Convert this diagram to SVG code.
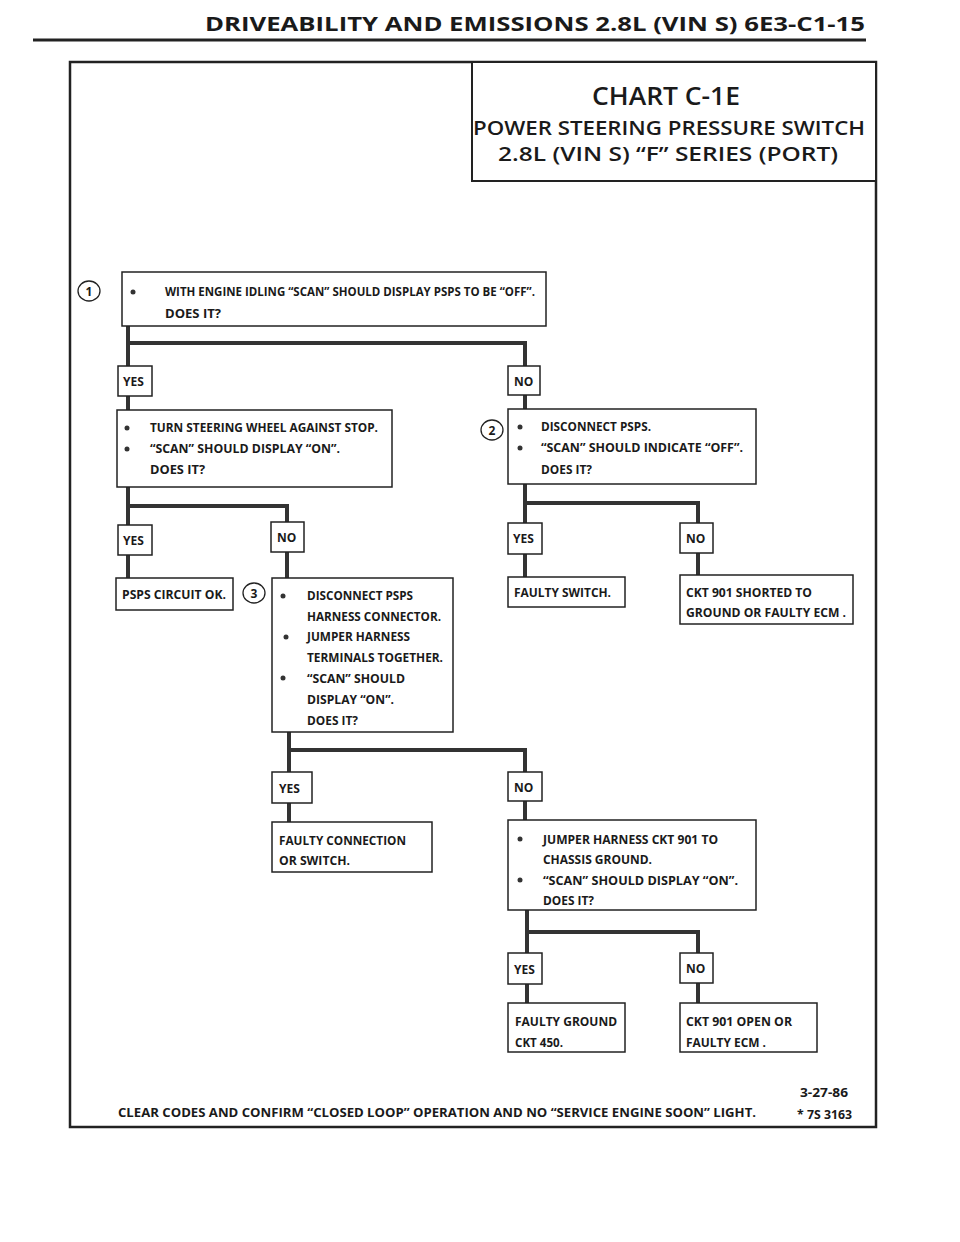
<svg xmlns="http://www.w3.org/2000/svg" width="960" height="1242" viewBox="0 0 960 1242">
<style>
.t{font-family:"Open Sans","DejaVu Sans",sans-serif;font-weight:700;font-size:12px;fill:#1a1a1a}
.ti{font-family:"Open Sans","DejaVu Sans",sans-serif;font-weight:600;fill:#1a1a1a}
.box{fill:#fff;stroke:#222;stroke-width:1.5}
.lab{fill:#fff;stroke:#222;stroke-width:1.5}
.con{fill:none;stroke:#333;stroke-width:4;stroke-linejoin:miter}
.b{fill:#333}
.num{fill:#fff;stroke:#222;stroke-width:1.3}
</style>
<rect width="960" height="1242" fill="#fff"/>
<g id="header">
<text x="205" y="31" style="font-family:'Open Sans','DejaVu Sans',sans-serif;font-weight:700;font-size:19px;fill:#1a1a1a" textLength="660" lengthAdjust="spacingAndGlyphs">DRIVEABILITY AND EMISSIONS 2.8L (VIN S) 6E3-C1-15</text>
<line x1="33" y1="40" x2="866" y2="40" stroke="#222" stroke-width="3"/>
</g>
<g id="frame">
<rect x="70" y="62" width="806" height="1065" fill="none" stroke="#222" stroke-width="2.5"/>
</g>
<g id="title">
<rect x="472" y="62" width="404" height="119" fill="#fff" stroke="#222" stroke-width="2"/>
<text class="ti" x="666" y="105" text-anchor="middle" font-size="26" textLength="148" lengthAdjust="spacingAndGlyphs">CHART C-1E</text>
<text class="ti" x="669" y="135" text-anchor="middle" font-size="19" textLength="392" lengthAdjust="spacingAndGlyphs">POWER STEERING PRESSURE SWITCH</text>
<text class="ti" x="668" y="161" text-anchor="middle" font-size="19" textLength="340" lengthAdjust="spacingAndGlyphs">2.8L  (VIN S)  “F”  SERIES  (PORT)</text>
</g>
<g id="connectors">
<path class="con" d="M128 326 V410 M128 343 H525 V409"/>
<path class="con" d="M128 487 V578 M128 506 H287 V578"/>
<path class="con" d="M525 484 V577 M525 503 H698 V575"/>
<path class="con" d="M289 732 V822 M289 750 H525 V820"/>
<path class="con" d="M527 910 V1003 M527 932 H698 V1003"/>
</g>
<g id="labels">
<rect class="lab" x="118" y="366" width="34" height="30"/><text class="t" x="123" y="386">YES</text>
<rect class="lab" x="508" y="366" width="32" height="29"/><text class="t" x="514" y="386">NO</text>
<rect class="lab" x="118" y="525" width="34" height="30"/><text class="t" x="123" y="545">YES</text>
<rect class="lab" x="271" y="522" width="33" height="30"/><text class="t" x="277" y="542">NO</text>
<rect class="lab" x="508" y="523" width="34" height="31"/><text class="t" x="513" y="543">YES</text>
<rect class="lab" x="680" y="523" width="33" height="30"/><text class="t" x="686" y="543">NO</text>
<rect class="lab" x="272" y="772" width="40" height="31"/><text class="t" x="279" y="793">YES</text>
<rect class="lab" x="508" y="772" width="34" height="29"/><text class="t" x="514" y="792">NO</text>
<rect class="lab" x="508" y="953" width="34" height="31"/><text class="t" x="514" y="974">YES</text>
<rect class="lab" x="680" y="953" width="33" height="30"/><text class="t" x="686" y="973">NO</text>
</g>
<g id="n1">
<ellipse class="num" cx="89" cy="291" rx="11" ry="10"/><text class="t" x="89" y="295.5" text-anchor="middle">1</text>
<rect class="box" x="122" y="272" width="424" height="54"/>
<circle class="b" cx="133" cy="292" r="2.5"/>
<text class="t" x="165" y="296" textLength="370" lengthAdjust="spacingAndGlyphs">WITH ENGINE IDLING “SCAN” SHOULD DISPLAY PSPS TO BE “OFF”.</text>
<text class="t" x="165" y="318" textLength="56" lengthAdjust="spacingAndGlyphs">DOES IT?</text>
</g>
<g id="n_turn">
<rect class="box" x="117" y="410" width="275" height="77"/>
<circle class="b" cx="127" cy="428" r="2.5"/>
<circle class="b" cx="127" cy="449" r="2.5"/>
<text class="t" x="150" y="432" textLength="228" lengthAdjust="spacingAndGlyphs">TURN STEERING WHEEL AGAINST STOP.</text>
<text class="t" x="150" y="453" textLength="190" lengthAdjust="spacingAndGlyphs">“SCAN” SHOULD DISPLAY “ON”.</text>
<text class="t" x="150" y="474" textLength="55" lengthAdjust="spacingAndGlyphs">DOES IT?</text>
</g>
<g id="n2">
<ellipse class="num" cx="492" cy="430" rx="11" ry="10"/><text class="t" x="492" y="434.5" text-anchor="middle">2</text>
<rect class="box" x="508" y="409" width="248" height="75"/>
<circle class="b" cx="520" cy="427" r="2.5"/>
<circle class="b" cx="520" cy="448" r="2.5"/>
<text class="t" x="541" y="431" textLength="110" lengthAdjust="spacingAndGlyphs">DISCONNECT PSPS.</text>
<text class="t" x="541" y="452" textLength="202" lengthAdjust="spacingAndGlyphs">“SCAN” SHOULD INDICATE  “OFF”.</text>
<text class="t" x="541" y="474" textLength="51" lengthAdjust="spacingAndGlyphs">DOES IT?</text>
</g>
<g id="n_ok">
<rect class="box" x="116" y="578" width="117" height="32"/>
<text class="t" x="122" y="599" textLength="104" lengthAdjust="spacingAndGlyphs">PSPS CIRCUIT OK.</text>
</g>
<g id="n3">
<ellipse class="num" cx="254" cy="593" rx="11" ry="10"/><text class="t" x="254" y="597.5" text-anchor="middle">3</text>
<rect class="box" x="272" y="578" width="181" height="154"/>
<circle class="b" cx="283" cy="596" r="2.5"/>
<circle class="b" cx="286" cy="637" r="2.5"/>
<circle class="b" cx="283" cy="678" r="2.5"/>
<text class="t" x="307" y="600" textLength="106" lengthAdjust="spacingAndGlyphs">DISCONNECT PSPS</text>
<text class="t" x="307" y="621" textLength="134" lengthAdjust="spacingAndGlyphs">HARNESS CONNECTOR.</text>
<text class="t" x="307" y="641" textLength="103" lengthAdjust="spacingAndGlyphs">JUMPER HARNESS</text>
<text class="t" x="307" y="662" textLength="136" lengthAdjust="spacingAndGlyphs">TERMINALS TOGETHER.</text>
<text class="t" x="307" y="683" textLength="98" lengthAdjust="spacingAndGlyphs">“SCAN” SHOULD</text>
<text class="t" x="307" y="704" textLength="87" lengthAdjust="spacingAndGlyphs">DISPLAY “ON”.</text>
<text class="t" x="307" y="725" textLength="51" lengthAdjust="spacingAndGlyphs">DOES IT?</text>
</g>
<g id="n_switch">
<rect class="box" x="508" y="577" width="117" height="30"/>
<text class="t" x="514" y="597" textLength="97" lengthAdjust="spacingAndGlyphs">FAULTY SWITCH.</text>
</g>
<g id="n_short">
<rect class="box" x="680" y="575" width="173" height="49"/>
<text class="t" x="686" y="597" textLength="126" lengthAdjust="spacingAndGlyphs">CKT 901 SHORTED TO</text>
<text class="t" x="686" y="617" textLength="160" lengthAdjust="spacingAndGlyphs">GROUND OR FAULTY ECM .</text>
</g>
<g id="n_conn">
<rect class="box" x="272" y="822" width="160" height="50"/>
<text class="t" x="279" y="845" textLength="127" lengthAdjust="spacingAndGlyphs">FAULTY CONNECTION</text>
<text class="t" x="279" y="865" textLength="71" lengthAdjust="spacingAndGlyphs">OR  SWITCH.</text>
</g>
<g id="n_jumper">
<rect class="box" x="508" y="820" width="248" height="90"/>
<circle class="b" cx="520" cy="839" r="2.5"/>
<circle class="b" cx="520" cy="880" r="2.5"/>
<text class="t" x="543" y="844" textLength="175" lengthAdjust="spacingAndGlyphs">JUMPER HARNESS CKT 901 TO</text>
<text class="t" x="543" y="864" textLength="109" lengthAdjust="spacingAndGlyphs">CHASSIS GROUND.</text>
<text class="t" x="543" y="885" textLength="195" lengthAdjust="spacingAndGlyphs">“SCAN” SHOULD DISPLAY “ON”.</text>
<text class="t" x="543" y="905" textLength="51" lengthAdjust="spacingAndGlyphs">DOES IT?</text>
</g>
<g id="n_ground">
<rect class="box" x="508" y="1003" width="117" height="49"/>
<text class="t" x="515" y="1026" textLength="102" lengthAdjust="spacingAndGlyphs">FAULTY GROUND</text>
<text class="t" x="515" y="1047" textLength="48" lengthAdjust="spacingAndGlyphs">CKT 450.</text>
</g>
<g id="n_open">
<rect class="box" x="680" y="1003" width="137" height="49"/>
<text class="t" x="686" y="1026" textLength="106" lengthAdjust="spacingAndGlyphs">CKT 901 OPEN OR</text>
<text class="t" x="686" y="1047" textLength="80" lengthAdjust="spacingAndGlyphs">FAULTY ECM .</text>
</g>
<g id="footer">
<text class="t" x="800" y="1097" textLength="48" lengthAdjust="spacingAndGlyphs">3-27-86</text>
<text class="t" x="118" y="1117" textLength="638" lengthAdjust="spacingAndGlyphs">CLEAR CODES AND CONFIRM “CLOSED LOOP”  OPERATION AND NO “SERVICE ENGINE SOON” LIGHT.</text>
<text class="t" x="797" y="1119" textLength="55" lengthAdjust="spacingAndGlyphs">* 7S  3163</text>
</g>
</svg>
